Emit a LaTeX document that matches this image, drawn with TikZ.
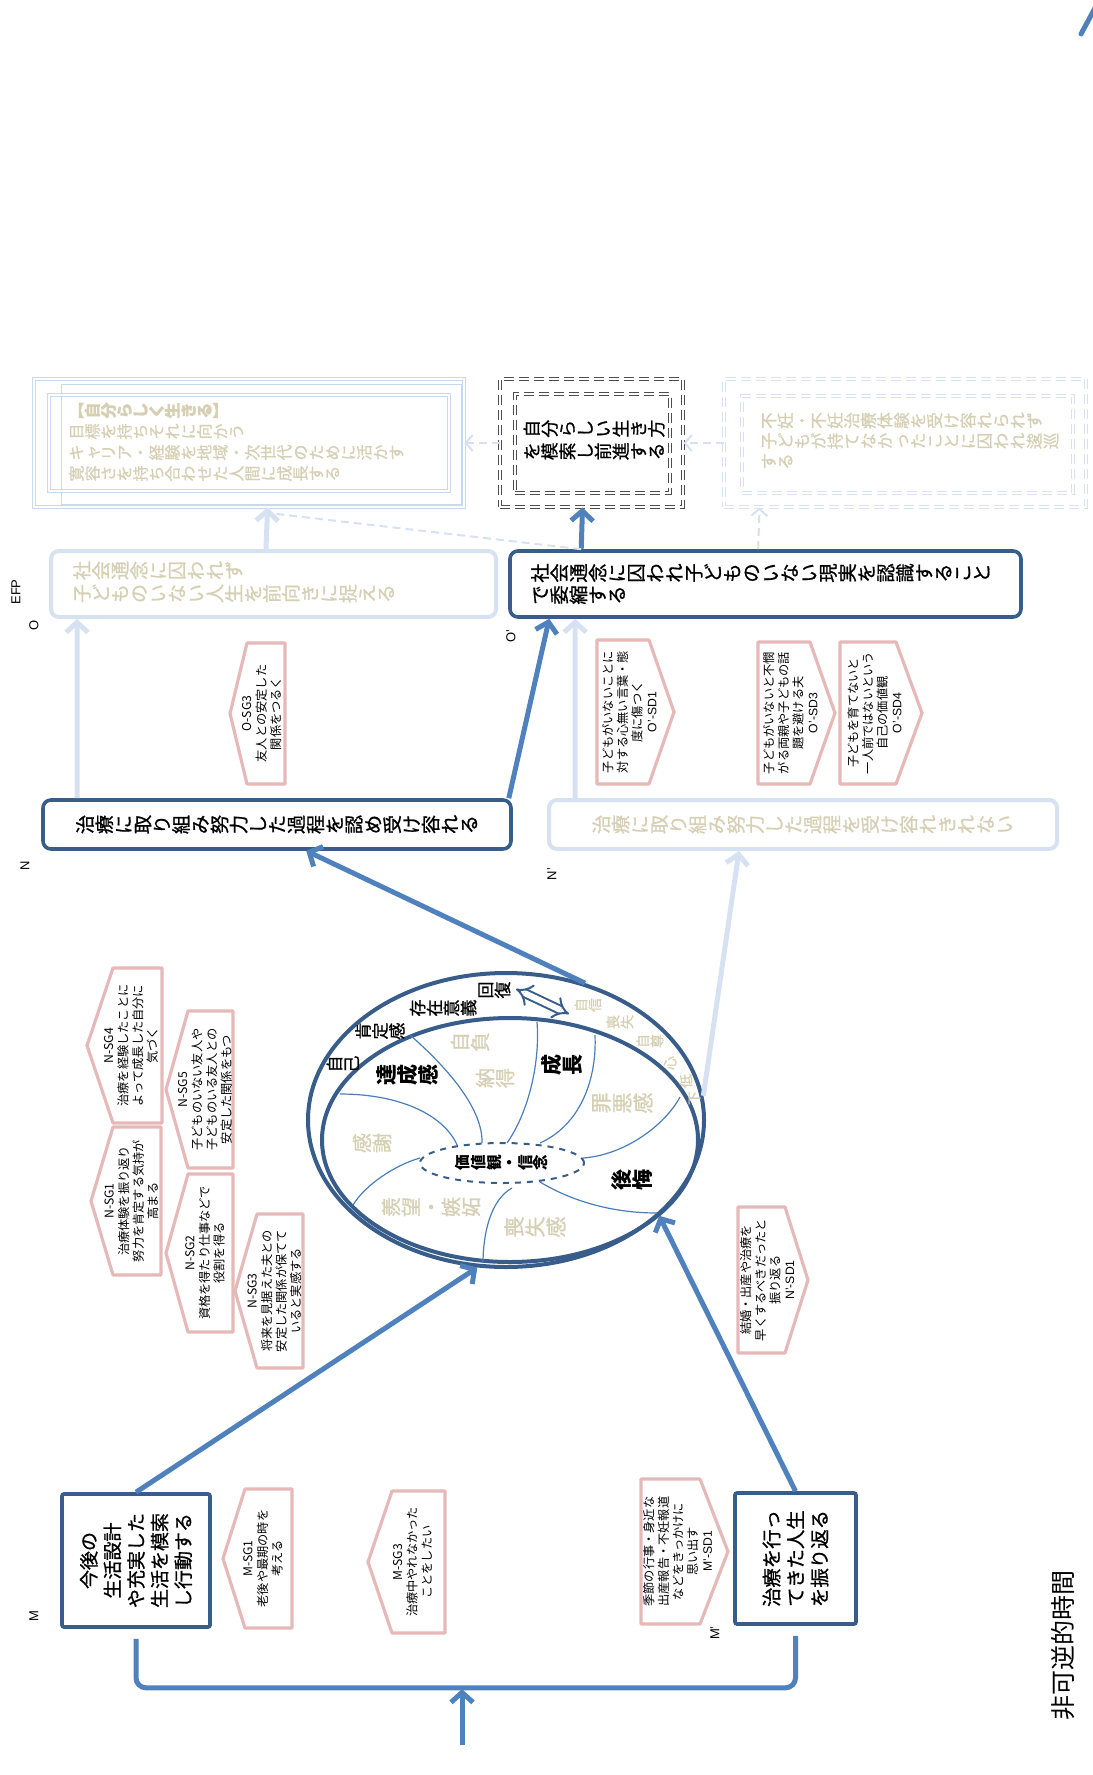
\documentclass[tikz,border=0pt]{standalone}
\usepackage{fontspec}
\usepackage{graphicx}
\setmainfont{Noto Sans CJK JP}
\newfontfamily\heavy[FakeBold=0.9]{Noto Sans CJK JP}
\newfontfamily\latin{Liberation Sans}
\usetikzlibrary{arrows.meta,shapes.geometric}

\definecolor{navy}{HTML}{385D8A}
\definecolor{arrowblue}{HTML}{4F81BD}
\definecolor{paleblue}{HTML}{D6E2F1}
\definecolor{frameblue}{HTML}{C6D9F1}
\definecolor{rose}{HTML}{E6B9B8}
\definecolor{sand}{HTML}{D6CFB3}
\definecolor{curveblue}{HTML}{4A7EBB}
\definecolor{inkgray}{HTML}{4D4D4D}

% vertical-style runs: every character is turned a quarter turn
\def\vtstop{\vtstop}
\newcommand\vglyph[1]{\rotatebox[origin=c]{90}{\makebox[1em]{\rule[-0.12em]{0pt}{1em}\smash{#1}}}}
\def\vtscan#1{\ifx\vtstop#1\else\vglyph{#1}\expandafter\vtscan\fi}
\newcommand\vt[1]{\vtscan#1\vtstop}

\tikzset{
  navybox/.style={draw=navy, line width=1.8pt, rounded corners=4pt, inner sep=0pt},
  palebox/.style={draw=paleblue, line width=2pt, rounded corners=4pt, inner sep=0pt},
  squarebox/.style={draw=navy, line width=1.8pt, rounded corners=1pt, inner sep=0pt},
  mainarrow/.style={draw=arrowblue, line width=2.5pt, -{Straight Barb[length=5pt,width=11pt]}},
  palearrow/.style={draw=paleblue, line width=2.5pt, -{Straight Barb[length=5pt,width=11pt]}},
  dasharrow/.style={draw=paleblue, line width=1pt, dash pattern=on 4pt off 2.5pt, -{Straight Barb[length=3.5pt,width=8pt]}},
  dashlink/.style={draw=paleblue, line width=1pt, dash pattern=on 4pt off 2.5pt},
  hexline/.style={draw=rose, line width=1.6pt, line join=round},
  hextext/.style={rotate=90, align=center, font=\fontsize{6.1}{7.3}\selectfont, inner sep=0pt},
  frame2/.style={draw=frameblue, line width=0.4pt, double, double distance=0.8pt, inner sep=0pt},
  dashframe/.style={line width=0.5pt, double, double distance=0.9pt, dash pattern=on 5pt off 2.5pt, inner sep=0pt},
  tag/.style={rotate=90, font=\latin\fontsize{6.5}{7}\selectfont, inner sep=0pt},
  bandword/.style={inner sep=0pt, font=\heavy\fontsize{8.5}{9}\selectfont},
  smallband/.style={inner sep=0pt, text=sand, font=\heavy\fontsize{7}{8}\selectfont},
  bigword/.style={inner sep=0pt, font=\fontsize{10.5}{11}\selectfont\bfseries},
  sandword/.style={inner sep=0pt, text=sand, font=\heavy\fontsize{10}{11}\selectfont},
}

% pentagon labels: point on the left / point on the right
\newcommand\hexleft[7]{%
  \draw[hexline] (#3,#5) -- (#4,#5) -- (#4,#6) -- (#3,#6) -- (#2,{(#5+#6)/2}) -- cycle;
  \node[hextext] (#1) at ({(#2+#3+2*#4)/4},{(#5+#6)/2}) {#7};}
\newcommand\hexright[7]{%
  \draw[hexline] (#2,#5) -- (#3,#5) -- (#4,{(#5+#6)/2}) -- (#3,#6) -- (#2,#6) -- cycle;
  \node[hextext] (#1) at ({(2*#2+#3+#4)/4},{(#5+#6)/2}) {#7};}

\begin{document}
\begin{tikzpicture}[x=0.5pt,y=-0.5pt]
\useasboundingbox (0,0) rectangle (1092,1775);

% ---------- top row ----------
\node[frame2, minimum width=215pt, minimum height=64pt] (TL) at (249,443) {};
\node[draw=frameblue, line width=0.5pt, inner sep=0pt, minimum width=200pt, minimum height=59.5pt] (TLshadow) at (261,444.5) {};
\node[frame2, minimum width=200pt, minimum height=48pt] (TLin) at (249,443) {};
\node[anchor=west, align=left, text=sand, inner sep=0pt, font=\heavy\fontsize{8}{10.5}\selectfont] (TLtext) at (68,442)
  {{\bfseries 【\vt{自分らしく生きる}】}\\\vt{目標を持ちそれに向かう}\\\vt{キャリア・経験を地域・次世代のために活かす}\\\vt{寛容さを持ち合わせた人間に成長する}};

\node[dashframe, draw=inkgray, minimum width=91.5pt, minimum height=64pt] (BK) at (591.5,443) {};
\node[dashframe, draw=inkgray, minimum width=77.5pt, minimum height=49.5pt] (BKin) at (592.5,443.5) {};
\node[align=center, inner sep=0pt, font=\heavy\fontsize{8.9}{11.3}\selectfont] (BKtext) at (594,440)
  {\vt{自分らしい生き方}\\\vt{を模索し前進する}};

\node[dashframe, draw=paleblue, minimum width=181pt, minimum height=64pt] (RD) at (905,443) {};
\node[dashframe, draw=paleblue, minimum width=165.5pt, minimum height=48.5pt] (RDin) at (907.5,444.5) {};
\node[anchor=west, align=left, text=sand, inner sep=0pt, font=\heavy\fontsize{8.3}{10.2}\selectfont] (RDtext) at (760,441)
  {\vt{不妊・不妊治療体験を受け容れられず}\\\vt{子どもが持てなかったことに囚われ逡巡}\\\vt{する}};

% ---------- O row ----------
\node[palebox, minimum width=222.5pt, minimum height=33pt] (O) at (273.5,584) {};
\node[anchor=west, align=left, text=sand, inner sep=0pt, font=\heavy\fontsize{9.5}{11.5}\selectfont] (Otext) at (72,582)
  {\vt{社会通念に囚われず}\\\vt{子どものいない人生を前向きに捉える}};
\node[navybox, minimum width=255.5pt, minimum height=33pt] (Op) at (765.5,584) {};
\node[anchor=west, align=left, inner sep=0pt, font=\heavy\fontsize{9.6}{11}\selectfont] (Optext) at (530,584)
  {\vt{社会通念に囚われ子どものいない現実を認識すること}\\\vt{で委縮する}};

% ---------- N row ----------
\node[navybox, minimum width=234pt, minimum height=24.5pt, font=\heavy\fontsize{9.6}{11}\selectfont] (N) at (277,824.5)
  {\vt{治療に取り組み努力した過程を認め受け容れる}};
\node[palebox, text=sand, minimum width=254pt, minimum height=24.5pt, font=\heavy\fontsize{9.6}{11}\selectfont] (Np) at (803,824.5)
  {\vt{治療に取り組み努力した過程を受け容れきれない}};

% ---------- M row ----------
\node[squarebox, minimum width=74pt, minimum height=66.5pt] (M) at (136,1560.5) {};
\node[rotate=90, align=center, inner sep=0pt, font=\heavy\fontsize{9.5}{11.8}\selectfont] (Mtext) at (M.center)
  {今後の\\生活設計\\や充実した\\生活を模索\\し行動する};
\node[squarebox, minimum width=60.5pt, minimum height=65.5pt] (Mp) at (795.5,1558.5) {};
\node[rotate=90, align=center, inner sep=0pt, font=\heavy\fontsize{9.7}{12}\selectfont] (Mptext) at (Mp.center)
  {治療を行っ\\てきた人生\\を振り返る};

% ---------- letters ----------
\node[tag] (tEFP) at (16,592) {EFP};
\node[tag] (tO) at (34,625) {O};
\node[tag] (tOp) at (511,636) {O’};
\node[tag] (tN) at (25,866) {N};
\node[tag] (tNp) at (552,874) {N’};
\node[tag] (tM) at (34,1616) {M};
\node[tag] (tMp) at (715,1633) {M’};
\node[rotate=90, inner sep=0pt, font=\fontsize{12.5}{13}\selectfont] (axis) at (1063,1645) {非可逆的時間};

% ---------- pentagon labels ----------
\hexleft{osg3}{230}{247}{285}{643}{784}{O-SG3\\友人との安定した\\関係をつるく}
\hexright{osd1}{597}{649}{674}{640}{784}{子どもがいないことに\\対する心無い言葉・態\\度に傷つく\\{\latin O’-SD1}}
\hexright{osd3}{758}{810}{835}{642}{784}{子どもがいないと不憫\\がる両親や子どもの話\\題を避ける夫\\{\latin O’-SD3}}
\hexright{osd4}{840}{896}{922}{642}{784}{子どもを育てないと\\一人前ではないという\\自己の価値観\\{\latin O’-SD4}}
\hexleft{nsg4}{87}{113}{162}{968}{1123}{N-SG4\\治療を経験したことに\\よって成長した自分に\\気づく}
\hexleft{nsg1}{91}{113}{161}{1127}{1275}{N-SG1\\治療体験を振り返り\\努力を肯定する気持が\\高まる}
\hexleft{nsg5}{166}{188}{233}{1011}{1168}{N-SG5\\子どものいない友人や\\子どものいる友人との\\安定した関係をもつ}
\hexleft{nsg2}{166}{188}{233}{1174}{1332}{N-SG2\\資格を得たり仕事などで\\役割を得る}
\hexleft{nsg3}{235}{257}{303}{1214}{1368}{N-SG3\\将来を見据えた夫との\\安定した関係が保てて\\いると実感する}
\hexright{npsd1}{738}{785}{808}{1207}{1353}{結婚・出産や治療を\\早くするべきだったと\\振り返る\\{\latin N’-SD1}}
\hexleft{msg1}{223}{245}{292}{1489}{1628}{M-SG1\\老後や最期の時を\\考える}
\hexleft{msg3}{368}{392}{445}{1491}{1633}{M-SG3\\治療中やれなかった\\ことをしたい}
\hexright{mpsd1}{641}{700}{728}{1479}{1624}{季節の行事・身近な\\出産報告・不妊報道\\などをきっかけに\\思い出す\\{\latin M’-SD1}}

% ---------- the ellipse of feelings ----------
\node[draw=navy, line width=2pt, ellipse, inner sep=0pt, minimum width=198pt, minimum height=147pt] (EO) at (506,1120) {};
\node[draw=navy, line width=2pt, ellipse, inner sep=0pt, minimum width=188pt, minimum height=122pt] (EI) at (510,1140) {};
\begin{scope}[curveblue, line width=0.6pt]
  \draw (340,1094) .. controls (400,1094) and (445,1115) .. (458,1147);
  \draw (410,1035) .. controls (450,1070) and (483,1110) .. (482,1143);
  \draw (537,1022) .. controls (540,1060) and (530,1110) .. (507,1143);
  \draw (595,1035) .. controls (597,1080) and (580,1125) .. (540,1143);
  \draw (680,1097) .. controls (665,1125) and (625,1155) .. (583,1158);
  \draw (540,1182) .. controls (570,1200) and (610,1213) .. (657,1213);
  \draw (512,1188) .. controls (490,1200) and (483,1235) .. (483,1263);
  \draw (420,1158) .. controls (395,1165) and (365,1185) .. (353,1205);
\end{scope}
\node[draw=navy, line width=1pt, dashed, ellipse, inner sep=0pt, minimum width=82pt, minimum height=20pt,
      fill=white, font=\fontsize{7.8}{8}\selectfont\bfseries] (EV) at (502,1163) {\vt{価値観・信念}};

\node[bandword] (w1) at (343,1064) {\vt{自己}};
\node[bandword] (w2) at (380,1031) {\vt{肯定感}};
\node[bandword] (w3) at (443,1008) {\vt{存在意義}};
\node[bandword] (w4) at (494,990) {\vt{回復}};
\node[smallband] (s1) at (588,1005) {\vt{自信}};
\node[smallband] (s2) at (620,1022) {\vt{喪失}};
\node[smallband] (s3) at (650,1041) {\vt{自尊}};
\node[smallband] (s4) at (670,1063) {\vt{心}};
\node[smallband] (s5) at (686,1081) {\vt{低}};
\node[smallband] (s6) at (694,1098) {\vt{下}};
\coordinate (dbA) at (516,989);
\coordinate (dbB) at (569,1014);
\draw[navy, line width=1pt, double=white, double distance=3pt, {Implies}-{Implies}] (dbA) -- (dbB);

\node[bigword] (k1) at (408,1075) {\vt{達成感}};
\node[sandword] (k2) at (470,1042) {\vt{自負}};
\node[sandword] (k3) at (495,1078) {\vt{納得}};
\node[bigword] (k4) at (562,1065) {\vt{成長}};
\node[sandword] (k5) at (372,1143) {\vt{感謝}};
\node[sandword] (k6) at (431,1207) {\vt{羨望・嫉妬}};
\node[sandword, font=\heavy\fontsize{10.5}{11}\selectfont] (k7) at (535,1227) {\vt{喪失感}};
\node[sandword, font=\heavy\fontsize{10.5}{11}\selectfont] (k8) at (622,1103) {\vt{罪悪感}};
\node[bigword] (k9) at (632,1180) {\vt{後悔}};

% ---------- connectors ----------
\draw[palearrow] ([xshift=18pt]N.north west) -- ([xshift=14pt]O.south west);
\draw[mainarrow] ([xshift=-2pt]N.north east) -- ([xshift=20.5pt]Op.south west);
\draw[palearrow] ([xshift=14pt]Np.north west) -- ([xshift=33.5pt]Op.south west);
\draw[palearrow] ([xshift=108.5pt]O.north west) -- ([xshift=117pt]TL.south west);
\draw[mainarrow] ([xshift=36.5pt]Op.north west) -- ([xshift=41.5pt]BK.south west);
\draw[dashlink] ([xshift=36.5pt]Op.north west) -- ([xshift=119pt,yshift=-3pt]TL.south west);
\draw[dasharrow] ([xshift=125pt]Op.north west) -- ([xshift=18pt]RD.south west);
\draw[dasharrow] (RD.west) -- (BK.east);
\draw[dasharrow] (BK.west) -- (TL.east);

\draw[mainarrow] (EO.60) -- ([xshift=132.5pt]N.south west);
\draw[palearrow] (EO.7) -- ([xshift=96pt]Np.south west);
\draw[mainarrow] (M.north) -- (EO.259);
\draw[mainarrow] (Mp.north) -- (EO.328);

\draw[arrowblue, line width=2.5pt, rounded corners=5pt] ([yshift=-5pt]M.south) -- ++(0,49) -| ([yshift=-5pt]Mp.south);
\coordinate (tA) at (462,1745);
\coordinate (tB) at (462,1689);
\draw[mainarrow] (tA) -- (tB);

\coordinate (cutA) at (1081,34);
\coordinate (cutB) at (1095,8);
\draw[arrowblue, line width=2.5pt, line cap=round] (cutA) -- (cutB);
\end{tikzpicture}
\end{document}
